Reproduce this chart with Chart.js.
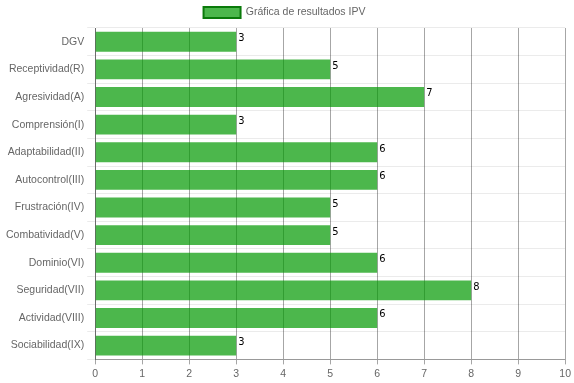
<!DOCTYPE html>
<html><head><meta charset="utf-8">
<script src="https://cdn.jsdelivr.net/npm/chart.js@4.4.0/dist/chart.umd.min.js"></script>
<style>html,body{margin:0;padding:0;background:#fff}#wrap{width:574px;height:383px}</style>
</head><body><div id="wrap"><canvas id="c"></canvas></div>
<script>
const categories = ["DGV","Receptividad(R)","Agresividad(A)","Comprensión(I)","Adaptabilidad(II)","Autocontrol(III)","Frustración(IV)","Combatividad(V)","Dominio(VI)","Seguridad(VII)","Actividad(VIII)","Sociabilidad(IX)"];
const values = [3,5,7,3,6,6,5,5,6,8,6,3];
const seriesName = "Gráfica de resultados IPV";
const xTicks = [0,1,2,3,4,5,6,7,8,9,10];

Chart.defaults.font.family = "'Liberation Sans', Arial, sans-serif";
Chart.defaults.font.size = 10.5;
Chart.defaults.color = '#666';

const labelPlugin = {
  id: 'valLabels',
  afterDatasetsDraw(chart) {
    const ctx = chart.ctx;
    const meta = chart.getDatasetMeta(0);
    ctx.save();
    ctx.font = "11px 'Liberation Sans Narrow', 'DejaVu Sans Condensed', sans-serif";
    ctx.fillStyle = '#000';
    ctx.textAlign = 'left';
    ctx.textBaseline = 'top';
    meta.data.forEach((bar, i) => {
      const h = bar.height;
      ctx.fillText(String(values[i]), bar.x + 2, bar.y - h/2 + 1);
    });
    ctx.restore();
  }
};

new Chart(document.getElementById('c'), {
  type: 'bar',
  data: {
    labels: categories,
    datasets: [{
      label: seriesName,
      data: values,
      backgroundColor: 'rgba(0,153,0,0.7)',
      borderColor: '#0a7a0a',
      borderWidth: 0
    }]
  },
  options: {
    indexAxis: 'y',
    responsive: true,
    maintainAspectRatio: false,
    animation: false,
    layout: { padding: { right: 8, left: 3, top: -1 } },
    plugins: {
      legend: {
        labels: {
          boxWidth: 37,
          boxHeight: 11,
          padding: 8,
          generateLabels(chart) {
            return [{ text: seriesName, fillStyle: 'rgba(0,153,0,0.7)', strokeStyle: '#0a7a0a', lineWidth: 2, hidden: false, datasetIndex: 0, fontColor: '#666' }];
          }
        }
      },
      tooltip: { enabled: false }
    },
    scales: {
      x: {
        min: 0, max: 10,
        ticks: { stepSize: 1, color: '#666' },
        grid: { color: 'rgba(0,0,0,0.35)', drawTicks: true, tickLength: 5 },
        border: { color: 'rgba(0,0,0,0.35)' }
      },
      y: {
        ticks: { color: '#666' },
        grid: { color: 'rgba(0,0,0,0.08)', offset: true },
        border: { color: 'rgba(0,0,0,0.35)' }
      }
    }
  },
  plugins: [labelPlugin]
});
</script></body></html>
